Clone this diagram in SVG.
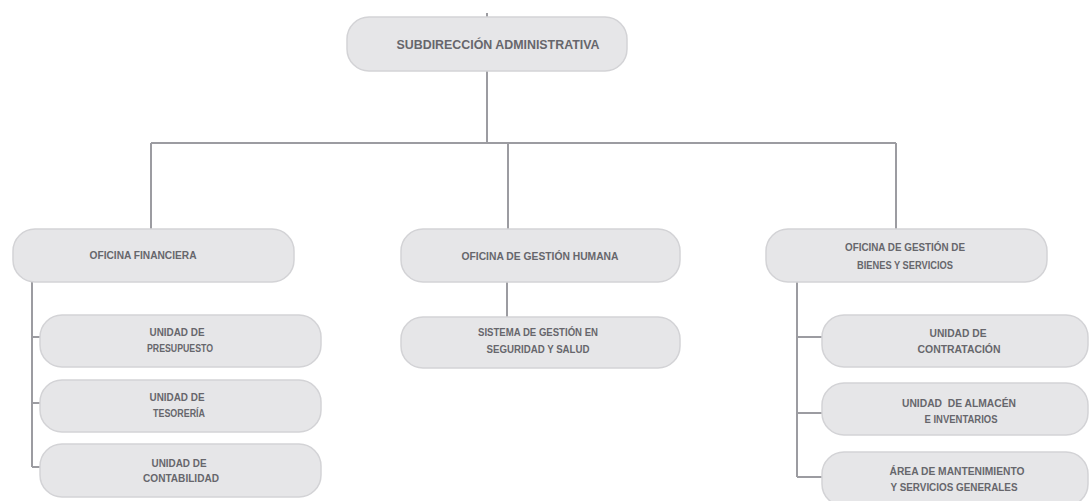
<svg xmlns="http://www.w3.org/2000/svg" width="1091" height="501" viewBox="0 0 1091 501">
<style>
.box{fill:#e6e6e8;stroke:#d3d3d6;stroke-width:1.5}
.t{font-family:"Liberation Sans",Arial,sans-serif;font-weight:bold;font-size:11px;fill:#66666c;text-anchor:middle}
.big{font-size:13.5px}
.c{fill:none;stroke:#9c9ca1;stroke-width:2}
</style>
<rect width="1091" height="501" fill="#ffffff"/>
<g id="connectors">
<path class="c" d="M487 13V17M487 71V143M151 143H896M151 143V229M508 143V229M896 143V229"/>
<path class="c" d="M32 282V467M32 337H40M32 403H40M32 467H40"/>
<path class="c" d="M507 282V317"/>
<path class="c" d="M797 282V477M797 337H822M797 413H822M797 477H822"/>
</g>
<g id="subdireccion">
<rect class="box" x="347" y="17" width="280" height="54" rx="22"/>
<text class="t big" x="498" y="49" textLength="203" lengthAdjust="spacingAndGlyphs">SUBDIRECCIÓN ADMINISTRATIVA</text>
</g>
<g id="oficina-financiera">
<rect class="box" x="13" y="229" width="281" height="53" rx="22"/>
<text class="t" x="143" y="259" textLength="107" lengthAdjust="spacingAndGlyphs">OFICINA FINANCIERA</text>
</g>
<g id="unidad-presupuesto">
<rect class="box" x="40" y="315" width="281" height="52" rx="22"/>
<text class="t" x="177" y="336" textLength="55" lengthAdjust="spacingAndGlyphs">UNIDAD DE</text>
<text class="t" x="180" y="352" textLength="66" lengthAdjust="spacingAndGlyphs">PRESUPUESTO</text>
</g>
<g id="unidad-tesoreria">
<rect class="box" x="40" y="380" width="281" height="52" rx="22"/>
<text class="t" x="177" y="401" textLength="55" lengthAdjust="spacingAndGlyphs">UNIDAD DE</text>
<text class="t" x="179" y="417" textLength="52" lengthAdjust="spacingAndGlyphs">TESORERÍA</text>
</g>
<g id="unidad-contabilidad">
<rect class="box" x="40" y="444" width="281" height="53" rx="22"/>
<text class="t" x="179" y="467" textLength="55" lengthAdjust="spacingAndGlyphs">UNIDAD DE</text>
<text class="t" x="181" y="482" textLength="76" lengthAdjust="spacingAndGlyphs">CONTABILIDAD</text>
</g>
<g id="oficina-gestion-humana">
<rect class="box" x="401" y="229" width="279" height="53" rx="22"/>
<text class="t" x="540" y="260" textLength="157" lengthAdjust="spacingAndGlyphs">OFICINA DE GESTIÓN HUMANA</text>
</g>
<g id="sistema-sst">
<rect class="box" x="401" y="317" width="279" height="51" rx="22"/>
<text class="t" x="538" y="336" textLength="120" lengthAdjust="spacingAndGlyphs">SISTEMA DE GESTIÓN EN</text>
<text class="t" x="538" y="353" textLength="103" lengthAdjust="spacingAndGlyphs">SEGURIDAD Y SALUD</text>
</g>
<g id="oficina-bienes-servicios">
<rect class="box" x="766" y="229" width="281" height="53" rx="22"/>
<text class="t" x="905" y="251" textLength="120" lengthAdjust="spacingAndGlyphs">OFICINA DE GESTIÓN DE</text>
<text class="t" x="905" y="269" textLength="96" lengthAdjust="spacingAndGlyphs">BIENES Y SERVICIOS</text>
</g>
<g id="unidad-contratacion">
<rect class="box" x="822" y="315" width="266" height="52" rx="22"/>
<text class="t" x="958" y="337" textLength="57" lengthAdjust="spacingAndGlyphs">UNIDAD DE</text>
<text class="t" x="959" y="353" textLength="83" lengthAdjust="spacingAndGlyphs">CONTRATACIÓN</text>
</g>
<g id="unidad-almacen">
<rect class="box" x="822" y="383" width="266" height="52" rx="22"/>
<text class="t" x="959" y="407" textLength="114" lengthAdjust="spacingAndGlyphs" xml:space="preserve">UNIDAD  DE ALMACÉN</text>
<text class="t" x="961" y="423" textLength="73" lengthAdjust="spacingAndGlyphs">E INVENTARIOS</text>
</g>
<g id="area-mantenimiento">
<rect class="box" x="822" y="452" width="266" height="54" rx="22"/>
<text class="t" x="957" y="475" textLength="135" lengthAdjust="spacingAndGlyphs">ÁREA DE MANTENIMIENTO</text>
<text class="t" x="954" y="491" textLength="127" lengthAdjust="spacingAndGlyphs">Y SERVICIOS GENERALES</text>
</g>
</svg>
